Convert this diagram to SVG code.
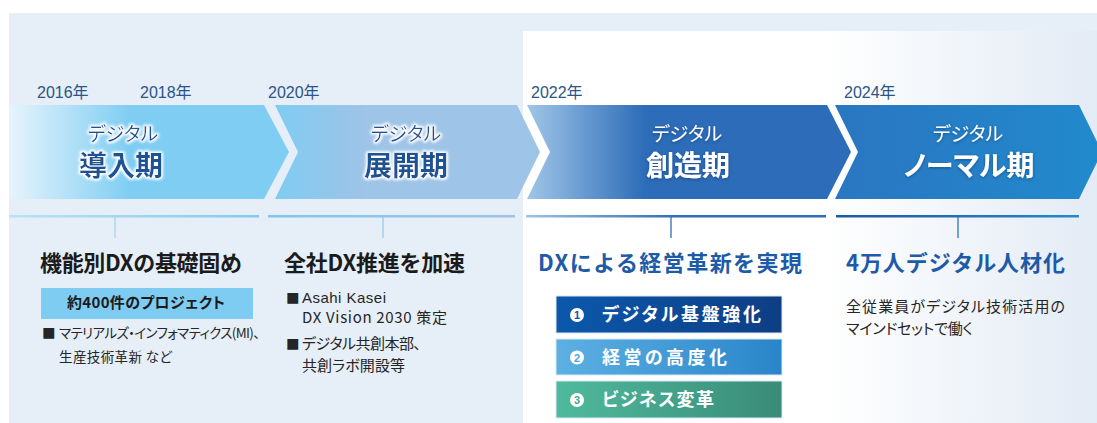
<svg xmlns="http://www.w3.org/2000/svg" width="1097" height="423" viewBox="0 0 1097 423">
<style>
.jp{font-family:"Noto Sans CJK JP","Liberation Sans",sans-serif;font-feature-settings:"palt" 1;}
.jpf{font-family:"Noto Sans CJK JP","Liberation Sans",sans-serif;}
.yr{font-family:"Liberation Sans","Noto Sans CJK JP",sans-serif;font-size:16px;fill:#2A5587;}
.sub{font-size:19px;text-anchor:middle;}
.ttl{font-size:28px;font-weight:700;text-anchor:middle;}
.dk{fill:#1E5294;}
.wt{fill:#ffffff;}
.h1{font-size:22px;font-weight:700;}
.hb{fill:#1B1B1B;}
.hc{fill:#1D5BA8;}
.body{font-size:15px;fill:#252525;}
.small{font-size:13.5px;fill:#252525;}
.btxt{font-size:18px;font-weight:700;fill:#ffffff;letter-spacing:1px;}
.num{font-family:"Liberation Sans",sans-serif;font-size:11px;font-weight:700;text-anchor:middle;}
</style>
<defs>
<linearGradient id="fade" gradientUnits="userSpaceOnUse" x1="523" y1="0" x2="1097" y2="0">
<stop offset="0" stop-color="#ffffff"/><stop offset="0.52" stop-color="#ffffff"/><stop offset="1" stop-color="#E3EBF5"/>
</linearGradient>
<linearGradient id="c1" gradientUnits="userSpaceOnUse" x1="9" y1="0" x2="130" y2="0">
<stop offset="0" stop-color="#E6F4FC"/><stop offset="1" stop-color="#7FCDF3"/>
</linearGradient>
<linearGradient id="c2" gradientUnits="userSpaceOnUse" x1="275" y1="0" x2="365" y2="0">
<stop offset="0" stop-color="#80CBF2"/><stop offset="1" stop-color="#9EC4E7"/>
</linearGradient>
<linearGradient id="c3" gradientUnits="userSpaceOnUse" x1="527" y1="0" x2="645" y2="0">
<stop offset="0" stop-color="#A0C6E8"/><stop offset="1" stop-color="#2D6CB8"/>
</linearGradient>
<linearGradient id="c4" gradientUnits="userSpaceOnUse" x1="835" y1="0" x2="1097" y2="0">
<stop offset="0" stop-color="#2A76C1"/><stop offset="1" stop-color="#218ACC"/>
</linearGradient>
<linearGradient id="l1" gradientUnits="userSpaceOnUse" x1="9" y1="0" x2="259" y2="0">
<stop offset="0" stop-color="#B9E1F5"/><stop offset="1" stop-color="#7FCBF1"/>
</linearGradient>
<linearGradient id="l2" gradientUnits="userSpaceOnUse" x1="268" y1="0" x2="515" y2="0">
<stop offset="0" stop-color="#7FC6EE"/><stop offset="1" stop-color="#9DC3E6"/>
</linearGradient>
<linearGradient id="l3" gradientUnits="userSpaceOnUse" x1="526" y1="0" x2="826" y2="0">
<stop offset="0" stop-color="#9DC3E6"/><stop offset="0.5" stop-color="#2E6DB8"/><stop offset="1" stop-color="#2E6DB8"/>
</linearGradient>
<linearGradient id="l4" gradientUnits="userSpaceOnUse" x1="836" y1="0" x2="1079" y2="0">
<stop offset="0" stop-color="#1B58A6"/><stop offset="1" stop-color="#2489CB"/>
</linearGradient>
<linearGradient id="b1" x1="0" y1="0" x2="1" y2="0">
<stop offset="0" stop-color="#0B58AC"/><stop offset="1" stop-color="#0E3E84"/>
</linearGradient>
<linearGradient id="b2" x1="0" y1="0" x2="1" y2="0">
<stop offset="0" stop-color="#5DB0E3"/><stop offset="1" stop-color="#2985C9"/>
</linearGradient>
<linearGradient id="b3" x1="0" y1="0" x2="1" y2="0">
<stop offset="0" stop-color="#4FBA9D"/><stop offset="1" stop-color="#3A8B77"/>
</linearGradient>
<filter id="glow" x="-20%" y="-40%" width="140%" height="180%">
<feMorphology in="SourceAlpha" operator="dilate" radius="1.2" result="d"/>
<feGaussianBlur in="d" stdDeviation="1.8" result="b"/>
<feFlood flood-color="#ffffff"/>
<feComposite in2="b" operator="in" result="g"/>
<feMerge><feMergeNode in="g"/><feMergeNode in="g"/><feMergeNode in="SourceGraphic"/></feMerge>
</filter>
<filter id="shadow" x="-20%" y="-40%" width="140%" height="180%">
<feDropShadow dx="0" dy="1" stdDeviation="1.5" flood-color="#0A2D63" flood-opacity="0.55"/>
</filter>
</defs>

<!-- background -->
<rect x="0" y="0" width="1097" height="423" fill="#ffffff"/>
<rect x="9" y="13" width="1088" height="410" fill="#E6EEF7"/>
<rect x="523" y="31" width="574" height="392" fill="url(#fade)"/>

<!-- years -->
<g id="years">
<text class="yr" x="37" y="98">2016年</text>
<text class="yr" x="140" y="98">2018年</text>
<text class="yr" x="268" y="98">2020年</text>
<text class="yr" x="531" y="98">2022年</text>
<text class="yr" x="844" y="98">2024年</text>
</g>

<!-- connectors -->
<g id="connectors">
<rect x="9" y="215" width="250" height="2.5" fill="url(#l1)"/>
<rect x="268" y="215" width="247" height="2.5" fill="url(#l2)"/>
<rect x="526" y="215" width="300" height="2.5" fill="url(#l3)"/>
<rect x="836" y="215" width="243" height="2.5" fill="url(#l4)"/>
<line x1="115" y1="217" x2="115" y2="238" stroke="#A6D6F0" stroke-width="1.3"/>
<line x1="383" y1="217" x2="383" y2="238" stroke="#9CC9EC" stroke-width="1.3"/>
<line x1="671" y1="217" x2="671" y2="238" stroke="#2E6DB8" stroke-width="1.3"/>
<line x1="958" y1="217" x2="958" y2="238" stroke="#2A74BE" stroke-width="1.3"/>
</g>

<!-- phase 1 -->
<g id="phase1">
<path d="M9,105 L264,105 L289,152 L264,199 L9,199 Z" fill="url(#c1)"/>
<text class="jp sub dk" x="123" y="141" filter="url(#glow)">デジタル</text>
<text class="jp ttl dk" x="121" y="176" filter="url(#glow)">導入期</text>
<text class="jpf h1 hb" x="40" y="271" textLength="202">機能別DXの基礎固め</text>
<rect x="41" y="288" width="212" height="31" fill="#7FCCF2"/>
<text class="jp" x="67" y="307.5" font-size="15" font-weight="700" fill="#1B1B1B" textLength="158">約400件のプロジェクト</text>
<text class="jp small" x="42" y="338">■</text>
<text class="jp small" x="59" y="338" textLength="201">マテリアルズ・インフォマティクス(MI)、</text>
<text class="jp small" x="59" y="362" textLength="113">生産技術革新 など</text>
</g>

<!-- phase 2 -->
<g id="phase2">
<path d="M275,105 L517,105 L540,152 L517,199 L275,199 L298,152 Z" fill="url(#c2)"/>
<text class="jp sub dk" x="406" y="141" filter="url(#glow)">デジタル</text>
<text class="jp ttl dk" x="406" y="176" filter="url(#glow)">展開期</text>
<text class="jpf h1 hb" x="284" y="271" textLength="181">全社DX推進を加速</text>
<text class="jp small" x="286" y="302.5">■</text>
<text class="body" x="302" y="302.5" font-family="Liberation Sans, sans-serif" textLength="84">Asahi Kasei</text>
<text class="jp body" x="302" y="322.5" textLength="145">DX Vision 2030 策定</text>
<text class="jp small" x="286" y="348.5">■</text>
<text class="jp body" x="302" y="348.5" textLength="119">デジタル共創本部、</text>
<text class="jp body" x="302" y="370.5" textLength="103">共創ラボ開設等</text>
</g>

<!-- phase 3 -->
<g id="phase3">
<path d="M527,105 L827,105 L851,152 L827,199 L527,199 L550,152 Z" fill="url(#c3)"/>
<text class="jp sub wt" x="687" y="141" filter="url(#shadow)">デジタル</text>
<text class="jp ttl wt" x="688" y="176" filter="url(#shadow)">創造期</text>
<text class="jpf h1 hc" x="538" y="271" textLength="264">DXによる経営革新を実現</text>
<rect x="556" y="296" width="226" height="37" fill="url(#b1)" stroke="#DCE8F4" stroke-width="1"/>
<circle cx="577" cy="315" r="7" fill="#ffffff"/>
<text class="num" x="577" y="319" fill="#0B55A8">1</text>
<text class="jp btxt" x="602" y="321" textLength="160">デジタル基盤強化</text>
<rect x="556" y="339" width="226" height="36" fill="url(#b2)" stroke="#DCE8F4" stroke-width="1"/>
<circle cx="577" cy="357.5" r="7" fill="#ffffff"/>
<text class="num" x="577" y="361.5" fill="#4AA5DF">2</text>
<text class="jp btxt" x="602" y="363.5" textLength="126">経営の高度化</text>
<rect x="556" y="381" width="226" height="37" fill="url(#b3)" stroke="#DCE8F4" stroke-width="1"/>
<circle cx="577" cy="400" r="7" fill="#ffffff"/>
<text class="num" x="577" y="404" fill="#45AA8E">3</text>
<text class="jp btxt" x="602" y="406" textLength="113">ビジネス変革</text>
</g>

<!-- phase 4 -->
<g id="phase4">
<path d="M835,105 L1079,105 L1102,152 L1079,199 L835,199 L858,152 Z" fill="url(#c4)"/>
<text class="jp sub wt" x="968" y="141" filter="url(#shadow)">デジタル</text>
<text class="jp ttl wt" x="969" y="176" filter="url(#shadow)">ノーマル期</text>
<text class="jpf h1 hc" x="846" y="271" textLength="219">4万人デジタル人材化</text>
<text class="jp body" x="846" y="312" font-size="15.5" fill="#333333" textLength="219">全従業員がデジタル技術活用の</text>
<text class="jp body" x="846" y="334" font-size="15.5" fill="#333333" textLength="127">マインドセットで働く</text>
</g>
</svg>
